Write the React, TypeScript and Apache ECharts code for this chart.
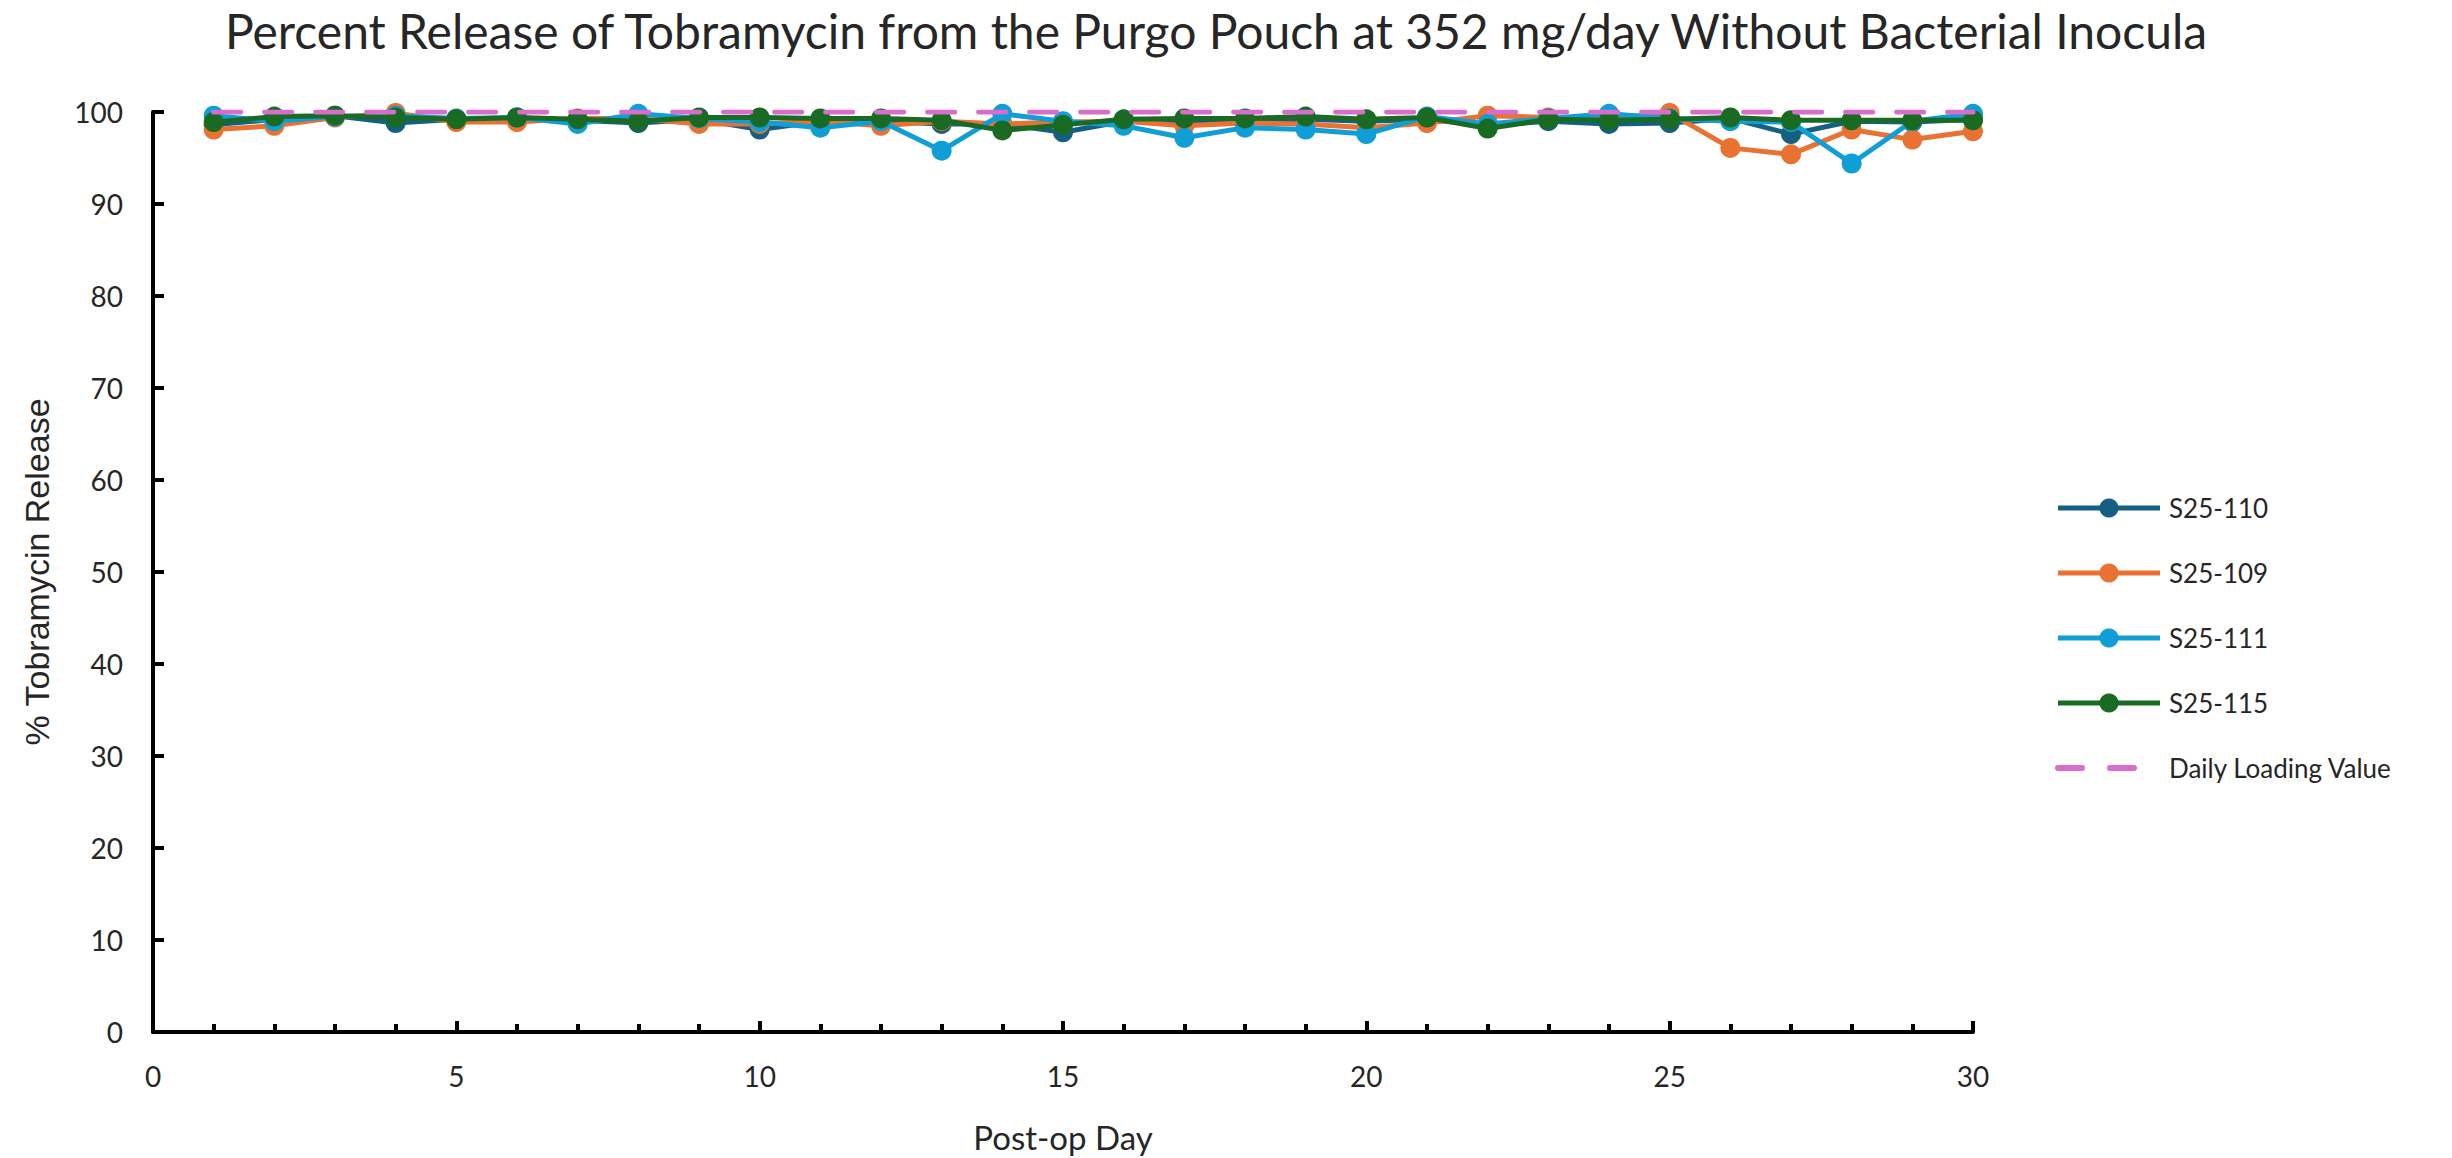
import React, { useEffect, useRef } from "react";
import * as echarts from "echarts";

const days = [1,2,3,4,5,6,7,8,9,10,11,12,13,14,15,16,17,18,19,20,21,22,23,24,25,26,27,28,29,30];
const s110 = [98.6,99.2,99.6,98.8,99.2,99.3,99.1,98.8,99.2,98.1,99.0,99.0,98.7,98.7,97.8,99.0,99.0,99.0,99.2,99.0,99.2,98.5,99.0,98.7,98.8,99.3,97.6,99.0,98.9,99.2];
const s109 = [98.1,98.5,99.4,99.9,98.9,98.9,99.3,99.3,98.7,98.7,99.0,98.5,99.0,98.7,98.9,99.0,98.5,98.8,98.7,98.3,98.8,99.6,99.4,99.3,99.9,96.1,95.4,98.1,97.0,97.9];
const s111 = [99.6,99.0,99.5,99.6,99.3,99.4,98.7,99.8,99.3,98.9,98.3,99.0,95.8,99.8,99.0,98.5,97.2,98.3,98.1,97.6,99.5,98.7,99.3,99.8,99.3,99.0,98.9,94.4,99.0,99.8];
const s115 = [98.9,99.5,99.6,99.4,99.2,99.4,99.2,99.0,99.4,99.4,99.3,99.3,99.1,98.0,98.6,99.2,99.3,99.3,99.5,99.2,99.4,98.2,99.2,99.1,99.2,99.4,99.1,99.1,99.1,99.1];
const dailyLoading = [100,100,100,100,100,100,100,100,100,100,100,100,100,100,100,100,100,100,100,100,100,100,100,100,100,100,100,100,100,100];

const seriesNames = ["S25-110", "S25-109", "S25-111", "S25-115", "Daily Loading Value"];
const seriesColors = ["#156082", "#E97132", "#0F9ED5", "#196B24", "#D86DCB"];
const seriesValues = [s110, s109, s111, s115, dailyLoading];

const FONT = "Lato, 'Open Sans', sans-serif";
const TXT = "#262626";

export default function App() {
  const ref = useRef<HTMLDivElement>(null);
  useEffect(() => {
    if (!ref.current) return;
    const chart = echarts.init(ref.current, undefined, { renderer: "svg" });
    const series = seriesValues.map((vals, i) => {
      const isDash = i === 4;
      return {
        name: seriesNames[i],
        type: "line",
        data: days.map((d, k) => [d, vals[k]]),
        symbol: isDash ? "none" : "circle",
        symbolSize: 20,
        showSymbol: !isDash,
        color: seriesColors[i],
        lineStyle: {
          color: seriesColors[i],
          width: 5,
          type: isDash ? [27, 24] : "solid",
          cap: isDash ? "round" : "butt",
        },
        itemStyle: { color: seriesColors[i] },
        z: 2 + i,
      };
    });
    const legendData = seriesNames.map((n, i) =>
      i === 4
        ? {
            name: n,
            itemStyle: { color: "rgba(0,0,0,0)", borderWidth: 0 },
            lineStyle: { color: seriesColors[i], width: 6, type: [24, 28], cap: "round" },
          }
        : { name: n, lineStyle: { color: seriesColors[i], width: 5 } }
    );
    chart.setOption({
      animation: false,
      backgroundColor: "#ffffff",
      textStyle: { fontFamily: FONT },
      title: {
        text: "Percent Release of Tobramycin from the Purgo Pouch at 352 mg/day Without Bacterial Inocula",
        left: 1216,
        textAlign: "center",
        top: 6,
        padding: 0,
        textStyle: { fontFamily: FONT, fontSize: 48, fontWeight: "normal", color: TXT },
      },
      legend: {
        orient: "vertical",
        left: 2050,
        top: 490,
        itemWidth: 102,
        itemHeight: 24,
        itemGap: 39,
        lineStyle: { width: 5 },
        textStyle: { fontFamily: FONT, fontSize: 26, color: TXT, padding: [0, 0, 0, 4] },
        data: legendData,
      },
      grid: { left: 153, right: 479, top: 112, bottom: 124, containLabel: false },
      xAxis: {
        type: "value",
        min: 0,
        max: 30,
        interval: 5,
        name: "Post-op Day",
        nameLocation: "middle",
        nameGap: 88,
        nameTextStyle: { fontFamily: FONT, fontSize: 33, color: TXT },
        axisLine: { show: true, onZero: false, lineStyle: { color: "#000", width: 4 } },
        axisTick: { show: true, inside: true, length: 11, lineStyle: { color: "#000", width: 4 } },
        minorTick: { show: true, splitNumber: 5, length: 8, lineStyle: { color: "#000", width: 4 } },
        axisLabel: { fontFamily: FONT, fontSize: 28, color: TXT, margin: 30 },
        splitLine: { show: false },
      },
      yAxis: {
        type: "value",
        min: 0,
        max: 100,
        interval: 10,
        name: "% Tobramycin Release",
        nameLocation: "middle",
        nameGap: 99,
        nameTextStyle: { fontFamily: "'Liberation Sans', Arial, sans-serif", fontSize: 34, color: TXT },
        axisLine: { show: true, onZero: false, lineStyle: { color: "#000", width: 4 } },
        axisTick: { show: true, inside: true, length: 11, lineStyle: { color: "#000", width: 4 } },
        axisLabel: { fontFamily: FONT, fontSize: 28, color: TXT, margin: 30 },
        splitLine: { show: false },
      },
      series,
    });
    return () => chart.dispose();
  }, []);
  return (
    <div
      ref={ref}
      style={{ position: "fixed", left: 0, top: 0, width: 2452, height: 1158, background: "#fff" }}
    />
  );
}
